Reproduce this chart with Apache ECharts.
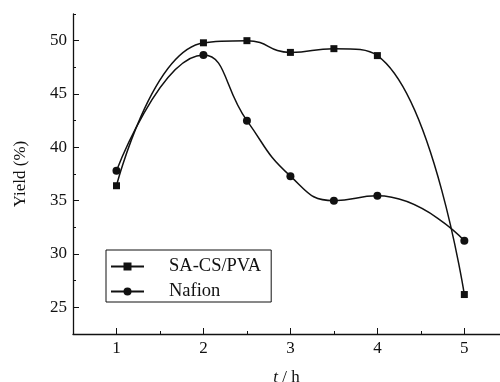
<!DOCTYPE html>
<html>
<head>
<meta charset="utf-8">
<script src="https://cdn.jsdelivr.net/npm/echarts@6/dist/echarts.min.js"></script>
<style>
  html, body { margin: 0; padding: 0; background: #fff; }
  #chart { width: 500px; height: 382px; }
</style>
</head>
<body>
<div id="chart"></div>
<script>
// time (h)
const times = [1, 2, 2.5, 3, 3.5, 4, 5];
// yield (%)
const sacsPva = [36.4, 49.8, 50.0, 48.9, 49.25, 48.6, 26.2];
const nafion = [37.8, 48.65, 42.5, 37.3, 35.0, 35.45, 31.25];

const xTicks = [1, 2, 3, 4, 5];
const xMinorTicks = [1.5, 2.5, 3.5, 4.5];
const yTicks = [25, 30, 35, 40, 45, 50];
const yMinorTicks = [22.5, 27.5, 32.5, 37.5, 42.5, 47.5, 52.5];

const FONT = 'Liberation Serif';
const INK = '#111';

const chart = echarts.init(document.getElementById('chart'));

const axisLine = { show: true, lineStyle: { color: INK, width: 1.3 } };

chart.setOption({
  backgroundColor: '#fff',
  animation: false,
  textStyle: { fontFamily: FONT, color: INK },
  grid: { left: 73, right: 0, top: 14, bottom: 48, outerBoundsMode: 'none', containLabel: false },
  legend: {
    left: 106,
    top: 250,
    orient: 'vertical',
    itemWidth: 33,
    itemHeight: 10,
    itemGap: 6,
    padding: [7, 10, 1, 4],
    borderColor: INK,
    borderWidth: 1,
    backgroundColor: '#fff',
    textStyle: { fontFamily: FONT, fontSize: 18.5, color: INK, padding: [0, 0, 0, 20] },
    data: ['SA-CS/PVA', 'Nafion'],
  },
  xAxis: [
    {
      type: 'value',
      min: 0.5,
      max: 5.41,
      name: '{i|t} / h',
      nameLocation: 'middle',
      nameGap: 35,
      nameTextStyle: {
        fontFamily: FONT,
        fontSize: 17,
        color: INK,
        rich: { i: { fontFamily: FONT, fontSize: 17, fontStyle: 'italic', color: INK } },
      },
      axisLine,
      axisTick: { show: true, inside: true, length: 6, customValues: xTicks, lineStyle: { color: INK } },
      axisLabel: { customValues: xTicks, fontFamily: FONT, fontSize: 17, color: INK, margin: 6 },
      splitLine: { show: false },
    },
    {
      type: 'value',
      min: 0.5,
      max: 5.41,
      position: 'bottom',
      axisLine: { show: false },
      axisTick: { show: true, inside: true, length: 3, customValues: xMinorTicks, lineStyle: { color: INK } },
      axisLabel: { show: false },
      splitLine: { show: false },
    },
  ],
  yAxis: [
    {
      type: 'value',
      min: 22.5,
      max: 52.5,
      name: 'Yield (%)',
      nameLocation: 'middle',
      nameGap: 44,
      nameTextStyle: { fontFamily: FONT, fontSize: 17, color: INK },
      axisLine,
      axisTick: { show: true, inside: true, length: 6, customValues: yTicks, lineStyle: { color: INK } },
      axisLabel: { customValues: yTicks, fontFamily: FONT, fontSize: 17, color: INK, margin: 6 },
      splitLine: { show: false },
    },
    {
      type: 'value',
      min: 22.5,
      max: 52.5,
      position: 'left',
      axisLine: { show: false },
      axisTick: { show: true, inside: true, length: 3, customValues: yMinorTicks, lineStyle: { color: INK } },
      axisLabel: { show: false },
      splitLine: { show: false },
    },
  ],
  series: [
    {
      name: 'SA-CS/PVA',
      type: 'line',
      data: times.map((t, i) => [t, sacsPva[i]]),
      smooth: 0.5,
      symbol: 'rect',
      symbolSize: 7,
      showAllSymbol: true,
      itemStyle: { color: INK },
      lineStyle: { color: INK, width: 1.5 },
    },
    {
      name: 'Nafion',
      type: 'line',
      data: times.map((t, i) => [t, nafion[i]]),
      smooth: 0.5,
      symbol: 'circle',
      symbolSize: 8,
      showAllSymbol: true,
      itemStyle: { color: INK },
      lineStyle: { color: INK, width: 1.5 },
    },
  ],
});
</script>
</body>
</html>
